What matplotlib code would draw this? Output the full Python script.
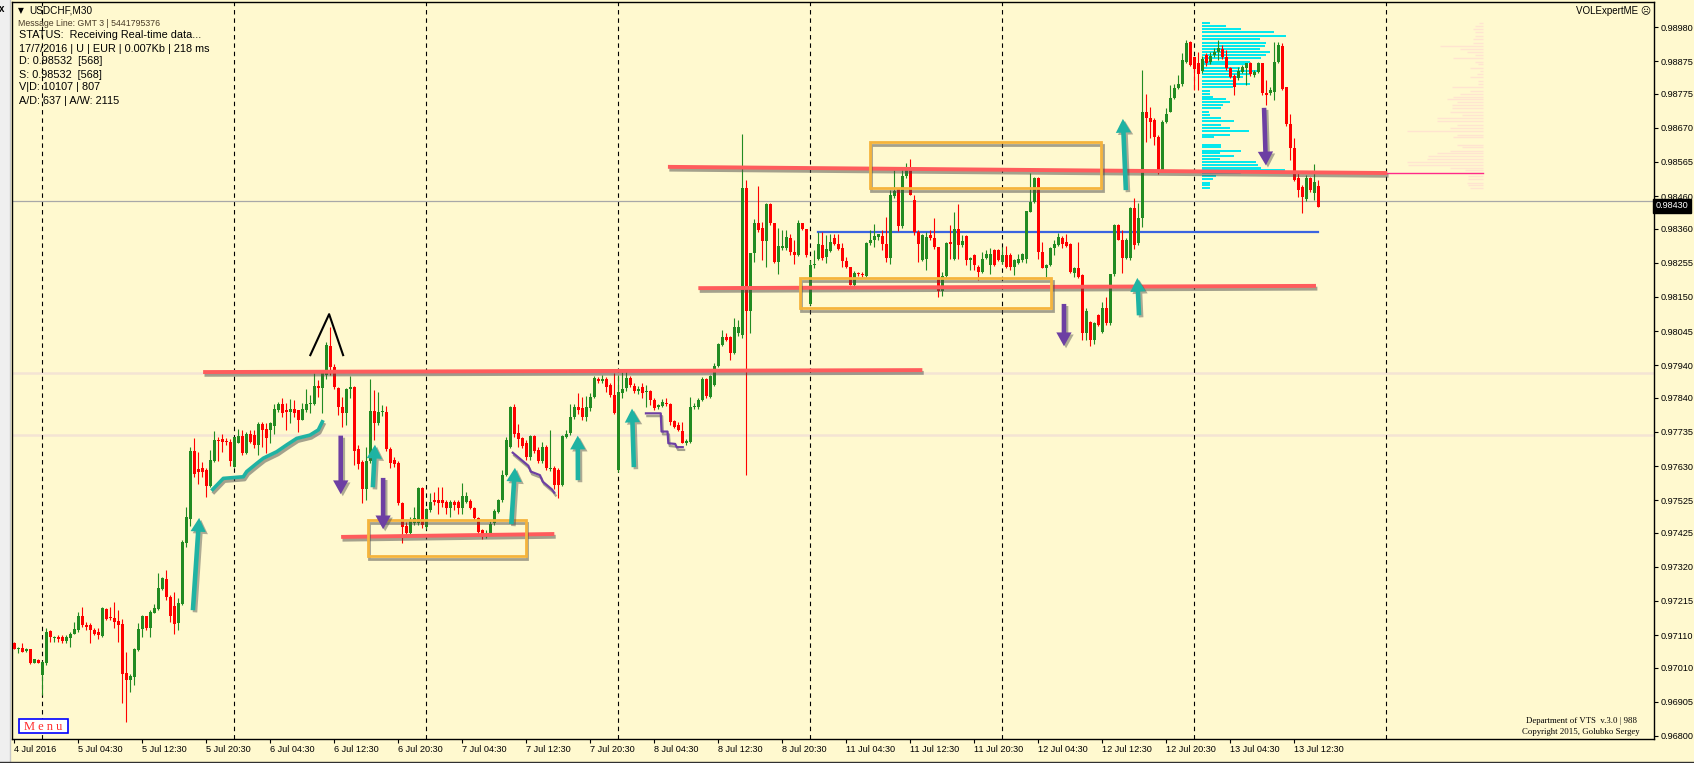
import numpy as np
import matplotlib.pyplot as plt
import matplotlib.patheffects as pe
from matplotlib.patches import Rectangle, FancyArrowPatch
from matplotlib.lines import Line2D

plt.rcParams['font.family'] = ['Liberation Sans', 'DejaVu Sans']

W, H = 1694, 763
BG = '#fff9cf'
GREEN = '#228b22'
RED = '#ff0000'

# USDCHF M30 bars, prices in points (1e-5)
opens = [
    97085, 97066, 97069, 97062, 97066, 97025, 97033, 96987, 97023, 97122,
    97100, 97105, 97103, 97093, 97100, 97113, 97126, 97169, 97141, 97141,
    97126, 97120, 97107, 97189, 97166, 97164, 97154, 97144, 96994, 96972,
    96982, 97064, 97128, 97169, 97131, 97179, 97189, 97251, 97284, 97228,
    97199, 97148, 97205, 97394, 97466, 97677, 97620, 97623, 97617, 97568,
    97646, 97710, 97712, 97708, 97705, 97628, 97700, 97722, 97671, 97730,
    97725, 97694, 97759, 97743, 97740, 97753, 97802, 97820, 97802, 97796,
    97806, 97802, 97771, 97802, 97820, 97822, 97876, 97869, 97910, 97999,
    97935, 97869, 97812, 97794, 97866, 97872, 97681, 97643, 97558, 97646,
    97800, 97763, 97795, 97797, 97681, 97650, 97640, 97515, 97445, 97425,
    97456, 97454, 97561, 97443, 97495, 97527, 97527, 97527, 97520, 97500,
    97520, 97520, 97500, 97520, 97523, 97502, 97469, 97433, 97418, 97423,
    97454, 97490, 97525, 97602, 97690, 97810, 97732, 97715, 97702, 97657,
    97722, 97679, 97646, 97690, 97620, 97625, 97618, 97572, 97720, 97732,
    97780, 97810, 97807, 97780, 97807, 97843, 97897, 97890, 97897, 97879,
    97848, 97618, 97855, 97869, 97900, 97876, 97862, 97874, 97858, 97862,
    97833, 97811, 97815, 97825, 97821, 97768, 97756, 97739, 97702, 97705,
    97811, 97811, 97833, 97897, 97843, 97880, 97938, 98002, 98028, 98028,
    97977, 98038, 98033, 98484, 98108, 98284, 98376, 98361, 98323, 98436,
    98376, 98258, 98300, 98299, 98330, 98289, 98279, 98376, 98358, 98128,
    98248, 98266, 98310, 98274, 98292, 98330, 98313, 98299, 98261, 98243,
    98187, 98222, 98220, 98214, 98317, 98325, 98333, 98337, 98313, 98269,
    98460, 98481, 98368, 98522, 98540, 98448, 98351, 98264, 98268, 98340,
    98330, 98302, 98169, 98214, 98318, 98268, 98359, 98310, 98338, 98263,
    98279, 98243, 98227, 98271, 98248, 98294, 98294, 98256, 98279, 98279,
    98243, 98253, 98263, 98266, 98412, 98443, 98515, 98287, 98240, 98248,
    98299, 98310, 98330, 98318, 98312, 98225, 98240, 98217, 98038, 98074,
    98017, 98094, 98043, 98115, 98069, 98220, 98371, 98325, 98271, 98271,
    98424, 98315, 98394, 98718, 98701, 98694, 98643, 98540, 98687, 98720,
    98761, 98791, 98804, 98873, 98935, 98887, 98870, 98846, 98894, 98873,
    98894, 98904, 98911, 98887, 98853, 98829, 98822, 98843, 98853, 98868,
    98832, 98843, 98868, 98778, 98776, 98781, 98873, 98922, 98794, 98682,
    98607, 98515, 98489, 98450, 98515, 98471, 98491]
highs = [
    97088, 97074, 97085, 97071, 97068, 97038, 97038, 97030, 97131, 97125,
    97107, 97110, 97110, 97110, 97120, 97151, 97182, 97197, 97151, 97146,
    97131, 97131, 97197, 97192, 97197, 97213, 97187, 97161, 97059, 96992,
    97069, 97148, 97172, 97169, 97187, 97207, 97302, 97290, 97310, 97233,
    97243, 97223, 97402, 97505, 97689, 97715, 97674, 97643, 97623, 97679,
    97738, 97720, 97730, 97715, 97712, 97720, 97745, 97740, 97735, 97740,
    97740, 97766, 97766, 97761, 97766, 97820, 97828, 97838, 97825, 97835,
    97833, 97802, 97823, 97866, 97848, 97915, 97894, 97925, 98012, 98058,
    97945, 97872, 97843, 97869, 97907, 97875, 97695, 97648, 97690, 97897,
    97864, 97859, 97817, 97815, 97690, 97659, 97645, 97520, 97459, 97474,
    97505, 97566, 97566, 97500, 97546, 97551, 97564, 97566, 97525, 97525,
    97525, 97525, 97579, 97551, 97530, 97505, 97474, 97436, 97433, 97460,
    97497, 97528, 97618, 97720, 97815, 97822, 97759, 97718, 97710, 97725,
    97725, 97690, 97705, 97695, 97741, 97630, 97623, 97725, 97740, 97822,
    97820, 97856, 97841, 97845, 97856, 97907, 97905, 97910, 97905, 97884,
    97915, 97910, 97920, 97927, 97907, 97884, 97875, 97885, 97879, 97865,
    97838, 97820, 97835, 97838, 97825, 97770, 97766, 97766, 97712, 97843,
    97825, 97840, 97903, 97900, 97910, 97946, 98009, 98048, 98038, 98030,
    98084, 98079, 98651, 98509, 98286, 98389, 98491, 98381, 98440, 98440,
    98376, 98361, 98356, 98356, 98345, 98325, 98386, 98378, 98358, 98264,
    98294, 98351, 98351, 98340, 98345, 98345, 98343, 98315, 98274, 98243,
    98231, 98228, 98228, 98320, 98356, 98374, 98345, 98356, 98395, 98479,
    98540, 98484, 98542, 98563, 98573, 98463, 98356, 98345, 98350, 98356,
    98392, 98305, 98228, 98320, 98371, 98412, 98435, 98340, 98340, 98274,
    98281, 98248, 98289, 98294, 98299, 98297, 98297, 98304, 98307, 98284,
    98268, 98281, 98284, 98415, 98530, 98520, 98520, 98320, 98250, 98304,
    98325, 98348, 98338, 98343, 98315, 98243, 98318, 98219, 98115, 98076,
    98074, 98099, 98135, 98151, 98222, 98373, 98373, 98356, 98330, 98427,
    98455, 98438, 98848, 98773, 98735, 98699, 98648, 98694, 98730, 98801,
    98804, 98832, 98899, 98940, 98937, 98889, 98904, 98890, 98899, 98904,
    98914, 98940, 98925, 98909, 98858, 98837, 98858, 98863, 98870, 98873,
    98848, 98873, 98870, 98817, 98796, 98935, 98935, 98930, 98796, 98714,
    98638, 98530, 98494, 98525, 98520, 98559, 98510]
lows = [
    97066, 97056, 97059, 97059, 97021, 97023, 97023, 96926, 97018, 97090,
    97090, 97090, 97085, 97085, 97074, 97113, 97120, 97136, 97126, 97087,
    97110, 97097, 97105, 97156, 97156, 97131, 97090, 96900, 96844, 96936,
    96956, 97062, 97105, 97126, 97105, 97177, 97187, 97249, 97218, 97151,
    97115, 97126, 97202, 97382, 97445, 97597, 97574, 97597, 97536, 97566,
    97643, 97646, 97674, 97694, 97630, 97626, 97700, 97664, 97667, 97700,
    97684, 97664, 97689, 97669, 97700, 97730, 97797, 97781, 97740, 97761,
    97781, 97735, 97771, 97797, 97792, 97817, 97843, 97792, 97899, 97910,
    97867, 97787, 97751, 97756, 97838, 97633, 97620, 97517, 97525, 97640,
    97710, 97755, 97785, 97675, 97625, 97628, 97510, 97394, 97411, 97418,
    97449, 97450, 97440, 97435, 97490, 97510, 97484, 97505, 97484, 97474,
    97495, 97484, 97484, 97515, 97497, 97464, 97425, 97405, 97408, 97418,
    97450, 97485, 97520, 97598, 97685, 97720, 97690, 97684, 97650, 97650,
    97670, 97638, 97640, 97618, 97615, 97560, 97531, 97568, 97715, 97725,
    97775, 97790, 97770, 97767, 97800, 97840, 97884, 97884, 97859, 97843,
    97790, 97612, 97838, 97860, 97872, 97855, 97850, 97838, 97811, 97818,
    97803, 97805, 97810, 97815, 97756, 97748, 97738, 97700, 97695, 97702,
    97805, 97805, 97830, 97840, 97840, 97875, 97935, 97998, 98015, 97956,
    97975, 98030, 98023, 97602, 98038, 98258, 98350, 98264, 98243, 98370,
    98253, 98222, 98295, 98295, 98280, 98251, 98275, 98355, 98274, 98125,
    98240, 98264, 98265, 98255, 98288, 98310, 98294, 98243, 98240, 98187,
    98185, 98215, 98210, 98212, 98310, 98305, 98325, 98294, 98258, 98250,
    98455, 98354, 98361, 98515, 98530, 98340, 98258, 98260, 98233, 98325,
    98297, 98149, 98153, 98210, 98268, 98263, 98268, 98305, 98248, 98233,
    98233, 98202, 98225, 98268, 98220, 98246, 98260, 98250, 98240, 98233,
    98217, 98250, 98258, 98253, 98410, 98440, 98268, 98238, 98212, 98245,
    98279, 98308, 98301, 98305, 98225, 98212, 98207, 98017, 98017, 98000,
    98005, 98060, 98040, 98064, 98064, 98215, 98325, 98225, 98268, 98263,
    98297, 98310, 98366, 98627, 98638, 98617, 98527, 98535, 98684, 98718,
    98758, 98789, 98800, 98868, 98861, 98786, 98786, 98840, 98860, 98865,
    98887, 98878, 98882, 98848, 98822, 98771, 98817, 98838, 98802, 98830,
    98827, 98838, 98771, 98740, 98770, 98755, 98868, 98786, 98677, 98571,
    98505, 98458, 98407, 98445, 98474, 98448, 98425]
closes = [
    97066, 97068, 97059, 97066, 97025, 97036, 97025, 97028, 97120, 97103,
    97103, 97097, 97093, 97103, 97115, 97128, 97169, 97141, 97136, 97126,
    97115, 97110, 97194, 97161, 97164, 97151, 97141, 96992, 96972, 96984,
    97066, 97128, 97169, 97131, 97182, 97192, 97254, 97287, 97226, 97169,
    97144, 97208, 97397, 97472, 97677, 97607, 97612, 97612, 97568, 97648,
    97710, 97707, 97705, 97705, 97646, 97718, 97722, 97671, 97730, 97705,
    97694, 97759, 97740, 97715, 97761, 97804, 97820, 97792, 97795, 97804,
    97794, 97771, 97804, 97820, 97824, 97876, 97869, 97915, 98002, 97935,
    97872, 97810, 97794, 97866, 97872, 97677, 97636, 97558, 97646, 97800,
    97763, 97797, 97799, 97681, 97640, 97636, 97515, 97443, 97425, 97462,
    97469, 97561, 97449, 97497, 97520, 97520, 97515, 97515, 97500, 97518,
    97510, 97500, 97538, 97538, 97500, 97469, 97428, 97418, 97423, 97452,
    97493, 97525, 97602, 97710, 97810, 97730, 97712, 97692, 97657, 97722,
    97677, 97646, 97690, 97623, 97625, 97572, 97572, 97722, 97730, 97782,
    97810, 97802, 97780, 97812, 97843, 97900, 97890, 97897, 97874, 97848,
    97794, 97859, 97866, 97900, 97879, 97862, 97866, 97856, 97862, 97833,
    97807, 97818, 97828, 97821, 97766, 97751, 97741, 97702, 97708, 97811,
    97815, 97833, 97897, 97845, 97907, 97938, 98005, 98026, 98018, 97977,
    98056, 98059, 98484, 98108, 98284, 98376, 98356, 98323, 98436, 98378,
    98258, 98307, 98307, 98333, 98289, 98279, 98376, 98358, 98279, 98248,
    98251, 98313, 98269, 98296, 98320, 98313, 98296, 98261, 98243, 98187,
    98225, 98220, 98217, 98317, 98325, 98337, 98343, 98313, 98269, 98463,
    98477, 98368, 98522, 98540, 98463, 98351, 98313, 98340, 98335, 98330,
    98302, 98169, 98214, 98317, 98313, 98359, 98310, 98322, 98263, 98270,
    98248, 98227, 98268, 98281, 98281, 98248, 98263, 98279, 98243, 98243,
    98263, 98268, 98281, 98414, 98443, 98515, 98287, 98238, 98248, 98299,
    98312, 98335, 98312, 98308, 98227, 98240, 98212, 98038, 98107, 98017,
    98069, 98064, 98115, 98069, 98220, 98371, 98325, 98271, 98325, 98422,
    98310, 98394, 98718, 98701, 98689, 98643, 98540, 98689, 98714, 98763,
    98791, 98804, 98880, 98930, 98863, 98850, 98837, 98881, 98868, 98891,
    98904, 98914, 98887, 98853, 98827, 98796, 98846, 98858, 98868, 98835,
    98843, 98868, 98776, 98771, 98786, 98873, 98925, 98788, 98682, 98607,
    98510, 98479, 98458, 98515, 98479, 98504, 98428]

# time axis labels (bar index -> label)
tick_bars = [0, 16, 32, 48, 64, 80, 96, 112, 128, 144, 160, 176, 192,
             208, 224, 240, 256, 272, 288, 304, 320]
tick_labels = ['4 Jul 2016', '5 Jul 04:30', '5 Jul 12:30', '5 Jul 20:30',
               '6 Jul 04:30', '6 Jul 12:30', '6 Jul 20:30', '7 Jul 04:30',
               '7 Jul 12:30', '7 Jul 20:30', '8 Jul 04:30', '8 Jul 12:30',
               '8 Jul 20:30', '11 Jul 04:30', '11 Jul 12:30', '11 Jul 20:30',
               '12 Jul 04:30', '12 Jul 12:30', '12 Jul 20:30', '13 Jul 04:30',
               '13 Jul 12:30']
day_breaks = [7, 55, 103, 151, 199, 247, 295, 343]
price_ticks = [0.98980, 0.98875, 0.98775, 0.98670, 0.98565, 0.98460,
               0.98360, 0.98255, 0.98150, 0.98045, 0.97940, 0.97840,
               0.97735, 0.97630, 0.97525, 0.97425, 0.97320, 0.97215,
               0.97110, 0.97010, 0.96905, 0.96800]
last_price = 0.98430
bid_line = 0.98445

# volume profile of the last session (price level in points, volume)
profile_levels = [98991, 98983, 98973, 98964, 98952, 98942, 98932, 98922, 98911, 98902,
                  98894, 98884, 98873, 98865, 98855, 98846, 98835, 98825, 98815, 98805,
                  98794, 98784, 98774, 98766, 98758, 98748, 98739, 98730, 98718, 98709,
                  98699, 98691, 98678, 98669, 98659, 98649, 98641, 98618, 98610, 98600,
                  98592, 98583, 98573, 98564, 98555, 98547, 98540, 98530, 98522, 98512,
                  98501, 98493, 98484]
profile_vols = [23, 73, 118, 215, 251, 173, 191, 188, 173, 203,
                193, 178, 143, 133, 113, 173, 148, 123, 93, 143,
                93, 23, 23, 33, 71, 83, 63, 58, 21, 23,
                58, 95, 58, 83, 141, 83, 35, 58, 58, 118,
                53, 95, 53, 163, 168, 178, 248, 118, 43, 33,
                23, 23, 23]
history_vols = [12, 25, 30, 25, 25, 30, 30, 130, 70, 50,
                25, 90, 25, 15, 40, 10, 20, 40, 15, 15,
                95, 40, 70, 90, 108, 80, 95, 95, 100, 65,
                140, 140, 80, 100, 230, 80, 90, 80, 65, 100,
                140, 165, 170, 230, 225, 100, 55, 40, 45, 45,
                50, 45, 40]

# hand drawn analysis objects (bar, price)
red_levels = [(47.2, 0.97919, 227.0, 0.97925), (81.7, 0.97412, 135.0, 0.97421),
              (171.0, 0.98177, 325.4, 0.98184), (163.4, 0.98550, 343.2, 0.98531)]
blue_level = (201.0, 0.98350, 326.0, 0.98350)
poc_line = (343.2, 0.98531, 367.2, 0.98531)
boxes = [(88.4, 0.97353, 127.9, 0.97464), (196.4, 0.98116, 259.2, 0.98208),
         (213.9, 0.98485, 271.7, 0.98626)]
up_arrows = [(44.6, 0.97178, 46.25, 0.97479), (89.6, 0.97556, 90.2, 0.97704),
             (124.2, 0.97443, 125.2, 0.97633), (140.9, 0.97578, 140.85, 0.97732),
             (154.9, 0.97618, 154.4, 0.97815), (277.9, 0.98470, 277.1, 0.98706),
             (281.2, 0.98085, 280.7, 0.98217)]
down_arrows = [(81.6, 0.97732, 81.6, 0.97535), (92.2, 0.97602, 92.2, 0.97427),
               (262.4, 0.98137, 262.4, 0.97990), (312.4, 0.98740, 312.9, 0.98546)]
trend_x = [49.6, 52.25, 57.25, 58.1, 60.6, 62.25, 65.6, 68.1, 70.6, 73.9, 76.0, 77.0]
trend_y = [0.97558, 0.97592, 0.97597, 0.97613, 0.97638, 0.97654, 0.97674, 0.97695,
           0.97715, 0.97725, 0.97741, 0.97766]
steps1_x = [124.6, 128.5, 129.1, 131.4, 132.1, 134.4, 135.0]
steps1_y = [0.97671, 0.97631, 0.97613, 0.97602, 0.97582, 0.97558, 0.97548]
steps2_x = [157.9, 161.6, 161.8, 163.3, 163.5, 165.2, 165.6, 167.1]
steps2_y = [0.97792, 0.97792, 0.97736, 0.97736, 0.97700, 0.97698, 0.97688, 0.97688]
peak_x = [74.0, 78.7, 82.2]
peak_y = [0.97971, 0.98097, 0.97971]
faint_levels = [0.97916, 0.97725]

n = min(len(opens), len(highs), len(lows), len(closes))
o = np.array(opens[:n]) / 1e5
h = np.array(highs[:n]) / 1e5
l = np.array(lows[:n]) / 1e5
c = np.array(closes[:n]) / 1e5
h = np.maximum(h, np.maximum(o, c))
l = np.minimum(l, np.minimum(o, c))
x = np.arange(n)

fig = plt.figure(figsize=(W / 100, H / 100), dpi=100, facecolor=BG)
ax = fig.add_axes([12 / W, 24 / H, 1642 / W, 737 / H], facecolor=BG)
ax.set_xlim(-0.575, 409.9)
ax.set_ylim(0.967906, 0.990569)

line_shadow = [pe.SimpleLineShadow(offset=(1, -2), shadow_color='#4a4a4a', alpha=0.5), pe.Normal()]
patch_shadow = [pe.SimplePatchShadow(offset=(1.5, -1.5), shadow_rgbFace='#4a4a4a', alpha=0.45), pe.Normal()]

# background guides
for lv in faint_levels:
    ax.axhline(lv, color='#f4e4d4', lw=1.8, zorder=0.5)
for b in day_breaks:
    ax.axvline(b, color='black', lw=0.8, ls=(0, (4, 3.5)), zorder=1)
ax.axhline(bid_line, color='#a8a8a8', lw=0.9, zorder=1.5)

# volume profiles
lv = np.array(profile_levels) / 1e5
ax.hlines(lv, 296.9, 296.9 + np.array(profile_vols) / 12, color='#00e8ee', lw=1.4, zorder=1)
ax.hlines(lv, 367.2 - np.array(history_vols) / 12, 367.2, color='#ffe4d0', lw=1.0, zorder=1)
ax.plot(poc_line[::2], poc_line[1::2], color='#ff2a8a', lw=1, zorder=2)

# candles
col = np.where(c >= o, GREEN, RED)
ax.vlines(x, l, h, colors=col, lw=0.8, zorder=3)
body_h = np.maximum(np.abs(c - o), 0.00003)
ax.bar(x, body_h, bottom=np.minimum(o, c), width=0.75, color=col, lw=0, zorder=3)

# analysis objects
ax.plot(blue_level[::2], blue_level[1::2], color='#3a64e0', lw=1.6, zorder=2.5)
for b0, p0, b1, p1 in red_levels:
    ax.plot([b0, b1], [p0, p1], color='#ff5c5c', lw=2.8, solid_capstyle='butt',
            path_effects=line_shadow, zorder=4)
for b0, p0, b1, p1 in boxes:
    ax.add_patch(Rectangle((b0, p0), b1 - b0, p1 - p0, fill=False, ec='#f5b43c', lw=2,
                           path_effects=line_shadow, zorder=4))
style = 'simple,head_length=0.9,head_width=1.0,tail_width=0.3'
for arrows, colr in [(up_arrows, '#1fb3a3'), (down_arrows, '#6d3fa3')]:
    for b0, p0, b1, p1 in arrows:
        ax.add_patch(FancyArrowPatch((b0, p0), (b1, p1), arrowstyle=style, mutation_scale=11,
                                     color=colr, lw=0, path_effects=patch_shadow, zorder=5))
ax.plot(trend_x, trend_y, color='#1fb3a3', lw=2.6, path_effects=line_shadow, zorder=5)
ax.plot(steps1_x, steps1_y, color='#6d3fa3', lw=1.6, path_effects=line_shadow, zorder=5)
ax.plot(steps2_x, steps2_y, color='#6d3fa3', lw=1.6, path_effects=line_shadow, zorder=5)
ax.plot(peak_x, peak_y, color='black', lw=1.5, zorder=5)

# axes
for s in ax.spines.values():
    s.set_color('black')
    s.set_linewidth(1)
ax.set_xticks(tick_bars)
ax.set_xticklabels(tick_labels, ha='left')
ax.tick_params(axis='x', direction='out', length=3, width=0.8, labelsize=6.6, pad=1.5)
ax.yaxis.tick_right()
ax.set_yticks(price_ticks)
ax.set_yticklabels([f'{p:.5f}' for p in price_ticks])
ax.tick_params(axis='y', direction='out', length=3, width=0.8, labelsize=6.6, pad=1.5)
ax.text(1.0012, last_price, f'{last_price:.5f}', transform=ax.get_yaxis_transform(),
        ha='left', va='center', fontsize=6.6, color='white', zorder=10, clip_on=False,
        bbox=dict(boxstyle='square,pad=0.3', fc='black', ec='black'))


def ftext(px, py, s, **kw):
    fig.text(px / W, 1 - py / H, s, va='center', **kw)


# info panel
ftext(18, 10.5, '\u25bc', fontsize=5.5, family=['DejaVu Sans'])
ftext(29, 10.5, 'USDCHF,M30', fontsize=7.2)
ftext(18, 23.5, 'Message Line: GMT 3 | 5441795376', fontsize=6.3, color='#4a3c28')
info = ['STATUS:  Receiving Real-time data...', '17/7/2016 | U | EUR | 0.007Kb | 218 ms',
        'D: 0.98532  [568]', 'S: 0.98532  [568]', 'V|D: 10107 | 807', 'A/D: 637 | A/W: 2115']
for i, s in enumerate(info):
    ftext(19, 35.5 + i * 13, s, fontsize=7.8)
ftext(1651, 11.5, 'VOLExpertME \u2639', ha='right', fontsize=7, family=['Liberation Sans', 'DejaVu Sans'])
ftext(1581, 721, 'Department of VTS  v.3.0 | 988', ha='center', fontsize=6.3, family=['Liberation Serif'])
ftext(1581, 732.5, 'Copyright 2015, Golubko Sergey', ha='center', fontsize=6.3, family=['Liberation Serif'])

# menu button and window chrome
fig.add_artist(Rectangle((19 / W, 1 - 733 / H), 49 / W, 14 / H, transform=fig.transFigure,
                         fc='white', ec='#0000ff', lw=1.2))
ftext(43.5, 726.5, 'M e n u', ha='center', fontsize=9, color='#ff2a2a', family=['Liberation Serif'])
fig.add_artist(Rectangle((0, 0), 10 / W, 1, transform=fig.transFigure, fc='#efefef', ec='none'))
fig.add_artist(Line2D([10 / W, 10 / W], [0, 1], transform=fig.transFigure, color='#c8c8c8', lw=1))
ftext(2, 9, 'x', fontsize=7, weight='bold', ha='center')
fig.add_artist(Line2D([0, 1], [1 - 761.5 / H] * 2, transform=fig.transFigure, color='#303030', lw=1))

fig.savefig('out.png', dpi=100, facecolor=BG)
